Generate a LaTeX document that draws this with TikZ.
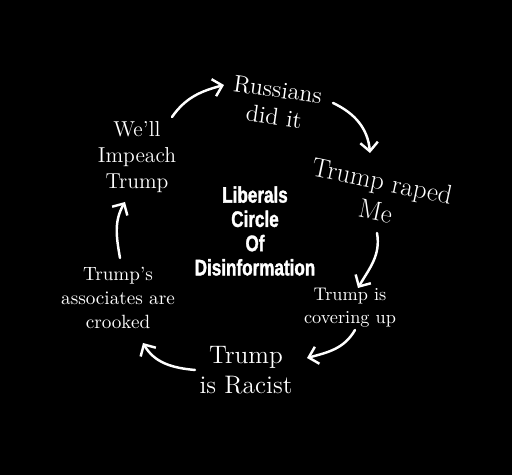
\documentclass[tikz,border=0pt]{standalone}
\usepackage{fontspec}
\newfontfamily\slogan[FakeStretch=0.76, FakeBold=1.5]{Liberation Sans}
\usepackage{tikz}
\usetikzlibrary{arrows.meta, positioning}

\begin{document}
\begin{tikzpicture}[x=0.02cm, y=0.02cm,
    phrase/.style={text=white, align=center, inner sep=0pt},
    cyclearrow/.style={white, line width=1.4pt, line cap=round, -{Straight Barb[length=5pt, width=10pt, line width=1.4pt]}}]
    \fill[black] (0,0) rectangle (512,475);

    \node[phrase, font=\slogan\bfseries\fontsize{12.8}{13.8}\selectfont] (hub) at (255,244) {Liberals\\Circle\\Of\\Disinformation};

    \node[phrase, rotate=-8, font=\fontsize{13.7}{15.5}\selectfont] (russians) at (276,372) {Russians\\did it};
    \node[phrase, rotate=-12, font=\fontsize{15.3}{17.5}\selectfont] (raped) at (379,279) {Trump raped\\Me};
    \node[phrase, font=\fontsize{10.4}{13}\selectfont] (coverup) at (350,167) {Trump is\\covering up};
    \node[phrase, font=\fontsize{14.4}{17}\selectfont] (racist) at (246,105) {Trump\\is Racist};
    \node[phrase, font=\fontsize{10.9}{13.6}\selectfont] (crooked) at (118,177) {Trump's\\associates are\\crooked};
    \node[phrase, font=\fontsize{12.3}{14.7}\selectfont] (impeach) at (137,318) {We'll\\Impeach\\Trump};

    \coordinate (impeach-out) at (172,358);
    \coordinate (russians-in) at (224,390);
    \coordinate (russians-out) at (333,372);
    \coordinate (raped-in) at (370,322);
    \coordinate (raped-out) at (377,242);
    \coordinate (coverup-in) at (358,187);
    \coordinate (coverup-out) at (355,145);
    \coordinate (racist-in) at (307,117);
    \coordinate (racist-out) at (195,105);
    \coordinate (crooked-in) at (143,132);
    \coordinate (crooked-out) at (120,217);
    \coordinate (impeach-in) at (125,273);

    \draw[cyclearrow] (impeach-out) to[out=55, in=195] (russians-in);
    \draw[cyclearrow] (russians-out) to[out=-25, in=95] (raped-in);
    \draw[cyclearrow] (raped-out) to[out=-80, in=60] (coverup-in);
    \draw[cyclearrow] (coverup-out) to[out=-120, in=15] (racist-in);
    \draw[cyclearrow] (racist-out) to[out=175, in=-60] (crooked-in);
    \draw[cyclearrow] (crooked-out) to[out=100, in=-120] (impeach-in);
\end{tikzpicture}
\end{document}
